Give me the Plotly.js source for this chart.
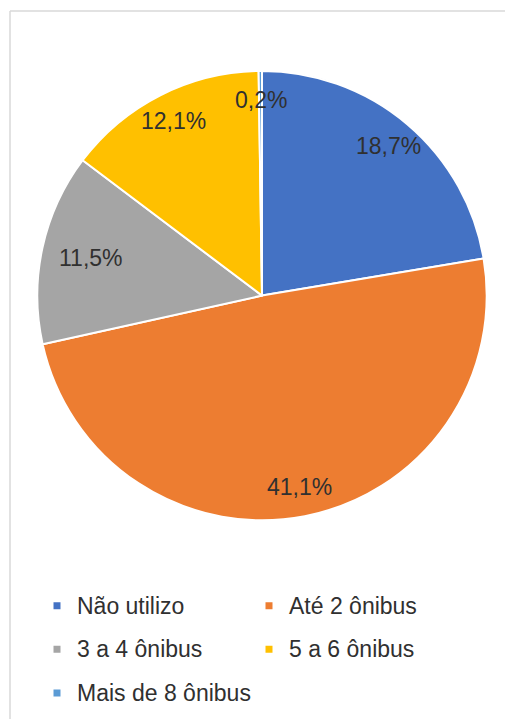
<!DOCTYPE html>
<html>
<head>
<meta charset="utf-8">
<script src="https://cdn.plot.ly/plotly-3.0.1.min.js"></script>
<style>
  html, body { margin: 0; padding: 0; background: #ffffff; }
  #chart { width: 505px; height: 720px; }
  path.legendpie { stroke-width: 5px !important; }
</style>
</head>
<body>
<div id="chart"></div>
<script>
const categories = ['Não utilizo', 'Até 2 ônibus', '3 a 4 ônibus', '5 a 6 ônibus', 'Mais de 8 ônibus'];
const percents = [18.7, 41.1, 11.5, 12.1, 0.2];
const colors = ['#4472C4', '#ED7D31', '#A5A5A5', '#FFC000', '#5B9BD5'];

const W = 505, H = 720;
const pieLeft = 37, pieRight = 487, pieTop = 71, pieBottom = 521;
const labelFont = { family: 'Liberation Sans, Arial, sans-serif', size: 23, color: '#303030' };

const textLabels = percents.map(v => v.toFixed(1).replace('.', ',') + '%');
const legendLabels = categories.map(c => '\u00a0<br>\u00a0<br><span style="font-size:23px">' + c + '</span><br>\u00a0');

// Label placement along each slice's mid-angle (Excel-like inside labels)
const ctx = document.createElement('canvas').getContext('2d');
ctx.font = labelFont.size + 'px ' + labelFont.family;
const total = percents.reduce((a, b) => a + b, 0);
const cx = (pieLeft + pieRight) / 2, cy = (pieTop + pieBottom) / 2;
const R = Math.min(pieRight - pieLeft, pieBottom - pieTop) / 2;
let cum = 0;
const annotations = percents.map((v, i) => {
  const mid = (cum + v / 2) / total * 2 * Math.PI;
  cum += v;
  const s = Math.sin(mid), c = Math.cos(mid);
  const hw = ctx.measureText(textLabels[i]).width / 2;
  let r = 0.87 * R;
  if (r * Math.abs(s) + hw > 0.9 * R) r = (0.9 * R - hw) / Math.abs(s);
  const px = cx + r * s, py = cy - r * c;
  return {
    xref: 'paper', yref: 'paper',
    x: px / W, y: 1 - py / H,
    xanchor: 'center', yanchor: 'middle',
    text: textLabels[i], showarrow: false,
    font: labelFont
  };
});

const trace = {
  type: 'pie',
  labels: legendLabels,
  values: percents,
  textinfo: 'none',
  sort: false,
  direction: 'clockwise',
  rotation: 0,
  marker: { colors: colors, line: { color: '#ffffff', width: 2 } },
  domain: { x: [pieLeft / W, pieRight / W], y: [1 - pieBottom / H, 1 - pieTop / H] },
  hoverinfo: 'none'
};

const layout = {
  width: W,
  height: H,
  margin: { l: 0, r: 0, t: 0, b: 0 },
  paper_bgcolor: '#ffffff',
  showlegend: true,
  annotations: annotations,
  legend: {
    orientation: 'h',
    x: 37 / W,
    xanchor: 'left',
    y: 1 - 580 / H,
    yanchor: 'top',
    entrywidth: 167,
    entrywidthmode: 'pixels',
    font: { family: 'Liberation Sans, Arial, sans-serif', size: 7.8, color: '#303030' },
    bgcolor: 'rgba(0,0,0,0)'
  },
  shapes: [
    { type: 'line', xref: 'paper', yref: 'paper', x0: 10 / W, x1: 1, y0: 1 - 11 / H, y1: 1 - 11 / H, line: { color: '#d9d9d9', width: 1.5 } },
    { type: 'line', xref: 'paper', yref: 'paper', x0: 10 / W, x1: 10 / W, y0: 1 - 11 / H, y1: 0, line: { color: '#d9d9d9', width: 1.5 } }
  ]
};

Plotly.newPlot('chart', [trace], layout, { displayModeBar: false, staticPlot: true });
</script>
</body>
</html>
